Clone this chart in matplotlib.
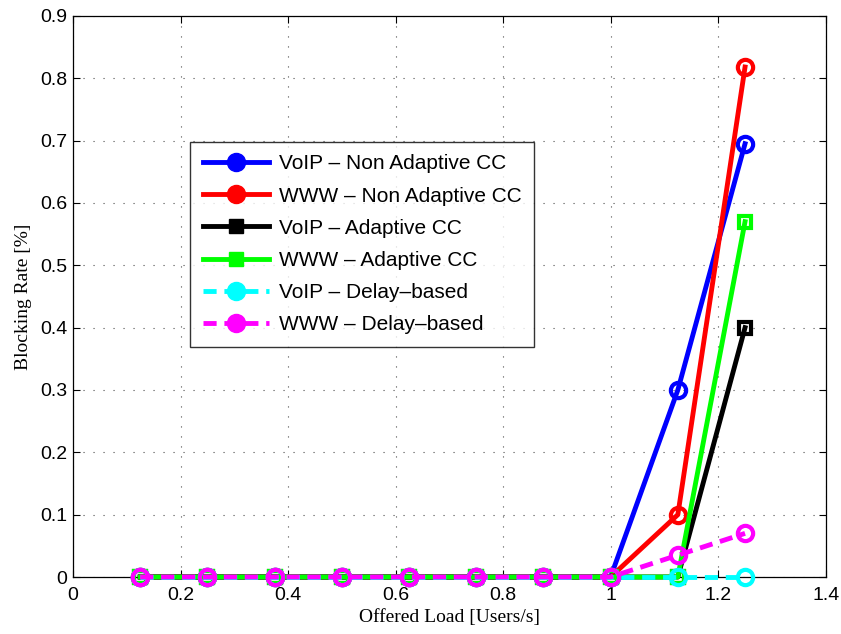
import numpy as np
import matplotlib.pyplot as plt
from matplotlib.lines import Line2D

load = [0.125, 0.25, 0.375, 0.5, 0.625, 0.75, 0.875, 1.0, 1.125, 1.25]
voip_nacc = [0, 0, 0, 0, 0, 0, 0, 0, 0.30, 0.695]
www_nacc = [0, 0, 0, 0, 0, 0, 0, 0, 0.10, 0.818]
voip_acc = [0, 0, 0, 0, 0, 0, 0, 0, 0, 0.40]
www_acc = [0, 0, 0, 0, 0, 0, 0, 0, 0, 0.57]
voip_delay = [0, 0, 0, 0, 0, 0, 0, 0, 0, 0]
www_delay = [0, 0, 0, 0, 0, 0, 0, 0, 0.035, 0.07]

labels = ['VoIP \u2013 Non Adaptive CC', 'WWW \u2013 Non Adaptive CC',
          'VoIP \u2013 Adaptive CC', 'WWW \u2013 Adaptive CC',
          'VoIP \u2013 Delay\u2013based', 'WWW \u2013 Delay\u2013based']

series = [voip_nacc, www_nacc, voip_acc, www_acc, voip_delay, www_delay]
colors = ['#0000ff', '#ff0000', '#000000', '#00ff00', '#00ffff', '#ff00ff']
markers = ['o', 'o', 's', 's', 'o', 'o']
styles = ['-', '-', '-', '-', '--', '--']

plt.rcParams['font.family'] = ['Liberation Sans', 'DejaVu Sans']

fig = plt.figure(figsize=(8.41, 6.34), dpi=100)
ax = fig.add_axes([0.0868, 0.0899, 0.895, 0.885])

handles = []
for y, c, m, ls, lab in zip(series, colors, markers, styles, labels):
    dash = (2.7, 1.6) if ls == '--' else (None, None)
    ax.plot(load, y, color=c, ls=ls, lw=3.5, marker=m, ms=11 if m == 'o' else 8,
            mew=3, mfc='none', mec=c, dashes=dash, clip_on=False, zorder=3)
    handles.append(Line2D([], [], color=c, ls=ls, lw=3.5, marker=m,
                          ms=13 if m == 'o' else 10, mfc=c, mec=c, dashes=dash))

ax.set_xlim(0, 1.4)
ax.set_ylim(0, 0.9)
ax.set_xticks(np.arange(0, 1.41, 0.2))
ax.set_yticks(np.arange(0, 0.91, 0.1))
ax.set_xticklabels(['0', '0.2', '0.4', '0.6', '0.8', '1', '1.2', '1.4'])
ax.set_yticklabels(['0', '0.1', '0.2', '0.3', '0.4', '0.5', '0.6', '0.7', '0.8', '0.9'])
ax.tick_params(labelsize=14, direction='in', length=5, width=0.8,
               top=True, right=True)
ax.tick_params(axis='x', pad=7)
ax.tick_params(axis='y', pad=4)
for s in ax.spines.values():
    s.set_linewidth(0.9)
ax.grid(True, color='0.3', ls=(0, (1, 8)), lw=0.8)
ax.set_axisbelow(True)

ax.set_xlabel('Offered Load [Users/s]', family='Liberation Serif', fontsize=14, labelpad=4)
ax.set_ylabel('Blocking Rate [%]', family='Liberation Serif', fontsize=14, labelpad=6)

leg = ax.legend(handles, labels, loc='upper left',
                bbox_to_anchor=(190 / 841, 1 - 142 / 634), bbox_transform=fig.transFigure,
                fontsize=15, frameon=True, fancybox=False, edgecolor='black',
                handlelength=3.2, borderpad=0.6, labelspacing=0.63,
                handletextpad=0.45, borderaxespad=0)
leg.get_frame().set_linewidth(1.0)

fig.savefig('out.png', dpi=100)
